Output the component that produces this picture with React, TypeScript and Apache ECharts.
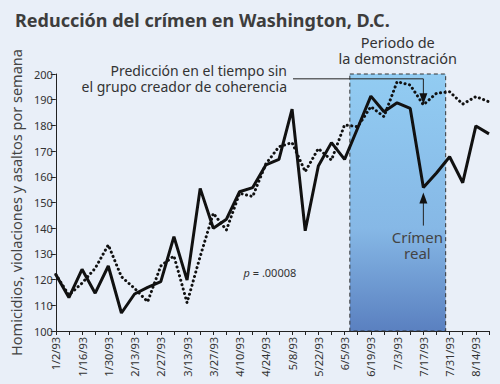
import React, { useEffect, useRef } from "react";
import * as echarts from "echarts";

const weekLabels = [
  "1/2/93", "1/9/93", "1/16/93", "1/23/93", "1/30/93", "2/6/93", "2/13/93", "2/20/93",
  "2/27/93", "3/6/93", "3/13/93", "3/20/93", "3/27/93", "4/3/93", "4/10/93", "4/17/93",
  "4/24/93", "5/1/93", "5/8/93", "5/15/93", "5/22/93", "5/29/93", "6/5/93", "6/12/93",
  "6/19/93", "6/26/93", "7/3/93", "7/10/93", "7/17/93", "7/24/93", "7/31/93", "8/7/93",
  "8/14/93", "8/21/93",
];

const actualCrime = [
  122, 113, 124, 114.7, 125.3, 107, 114.4, 117, 119.2, 136.7, 119.8, 155.5, 140, 143.5,
  154.2, 155.8, 164.6, 166.8, 186.3, 139, 164.2, 173.3, 166.8, 179, 191.4, 185.3, 188.8,
  186.6, 155.8, 161.5, 167.8, 157.7, 179.8, 176.7,
];

const predictedCrime = [
  122, 114, 118.6, 124.4, 133.5, 121.1, 116.6, 111.4, 125.3, 129.2, 111, 129, 145.8, 139.3,
  153.6, 152.3, 165, 171.7, 173.3, 162, 171, 166.5, 180.2, 179.5, 187.3, 183.4, 197, 195.7,
  188, 192.5, 193.1, 188.3, 191.2, 189.2,
];

const demoStart = 22.4;
const demoEnd = 29.7;
const demoTop = 201.5;
const yMin = 100;
const yMax = 200;
const arrowWeek = 28;

const FONT = "'Noto Sans', sans-serif";

export default function App() {
  const ref = useRef<HTMLDivElement>(null);

  useEffect(() => {
    document.body.style.margin = "0";
    const chart = echarts.init(ref.current!, null, { renderer: "svg" });
    const toPairs = (arr: number[]) => arr.map((v, i) => [i, v]);

    chart.setOption({
      animation: false,
      backgroundColor: "#e9eff8",
      title: {
        text: "Reducción del crímen en Washington, D.C.",
        left: 10,
        top: 6,
        textStyle: { fontFamily: FONT, fontSize: 18, fontWeight: "bold", color: "#3d3d3d" },
      },
      grid: { left: 54.3, right: 11, top: 74, bottom: 53, containLabel: false },
      xAxis: {
        type: "value",
        min: 0,
        max: weekLabels.length - 1,
        interval: 1,
        splitLine: { show: false },
        axisLine: { lineStyle: { color: "#222", width: 1 } },
        axisTick: { length: 4, lineStyle: { color: "#222" } },
        axisLabel: {
          rotate: 90,
          fontFamily: FONT,
          fontSize: 11,
          color: "#333",
          margin: 6,
          showMaxLabel: true,
          formatter: (v: number) => (v % 2 === 0 ? weekLabels[v] : ""),
        },
      },
      yAxis: {
        type: "value",
        min: yMin,
        max: yMax,
        interval: 10,
        name: "Homicidios, violaciones y asaltos por semana",
        nameLocation: "middle",
        nameGap: 31,
        nameTextStyle: { fontFamily: FONT, fontSize: 14.5, color: "#444" },
        splitLine: { show: false },
        axisLine: { show: true, lineStyle: { color: "#222", width: 1 } },
        axisTick: { show: true, length: 5, lineStyle: { color: "#222" } },
        axisLabel: { fontFamily: FONT, fontSize: 11, color: "#333", margin: 3 },
      },
      series: [
        {
          type: "line",
          name: "Crímen real",
          data: toPairs(actualCrime),
          showSymbol: false,
          lineStyle: { color: "#111", width: 3 },
          z: 5,
          markArea: {
            silent: true,
            itemStyle: {
              color: new echarts.graphic.LinearGradient(0, 0, 0, 1, [
                { offset: 0, color: "#92ccf2" },
                { offset: 0.6, color: "#86b8e6" },
                { offset: 1, color: "#5a80c0" },
              ]),
              borderColor: "#333",
              borderWidth: 1,
              borderType: [4, 3],
            },
            data: [[{ xAxis: demoStart, yAxis: demoTop }, { xAxis: demoEnd, yAxis: yMin }]],
          },
        },
        {
          type: "line",
          name: "Predicción",
          data: toPairs(predictedCrime),
          showSymbol: false,
          lineStyle: { color: "#111", width: 3, type: [0.1, 4.5], cap: "round" },
          z: 6,
        },
      ],
    });

    const pPred = chart.convertToPixel({ seriesIndex: 1 }, [arrowWeek, predictedCrime[arrowWeek]]) as number[];
    const pAct = chart.convertToPixel({ seriesIndex: 0 }, [arrowWeek, actualCrime[arrowWeek]]) as number[];
    const pDemo = chart.convertToPixel({ seriesIndex: 0 }, [(demoStart + demoEnd) / 2, demoTop]) as number[];
    const pP = chart.convertToPixel({ seriesIndex: 0 }, [14.3, 122.6]) as number[];

    const textStyle = { fontFamily: FONT, fontSize: 14, fill: "#333" };
    const ax = pPred[0];
    const lineY = pPred[1] - 26;
    const predTip = pPred[1] - 0.5;
    const actTip = pAct[1] + 5;

    chart.setOption({
      graphic: [
        {
          type: "text",
          x: 287,
          y: 62,
          style: {
            ...textStyle,
            text: "Predicción en el tiempo sin\nel grupo creador de coherencia",
            align: "right",
            lineHeight: 16,
          },
          z: 20,
        },
        {
          type: "polyline",
          shape: { points: [[293, lineY], [ax, lineY], [ax, predTip - 9]] },
          style: { stroke: "#222", lineWidth: 1, fill: null },
          z: 20,
        },
        {
          type: "polygon",
          shape: { points: [[ax - 4, predTip - 11], [ax + 4, predTip - 11], [ax, predTip]] },
          style: { fill: "#111" },
          z: 20,
        },
        {
          type: "polyline",
          shape: { points: [[ax, actTip + 9], [ax, actTip + 33]] },
          style: { stroke: "#222", lineWidth: 1, fill: null },
          z: 20,
        },
        {
          type: "polygon",
          shape: { points: [[ax - 4, actTip + 11], [ax + 4, actTip + 11], [ax, actTip]] },
          style: { fill: "#111" },
          z: 20,
        },
        {
          type: "text",
          x: ax - 6,
          y: actTip + 36,
          style: { ...textStyle, fontSize: 15, fill: "#444", text: "Crímen\nreal", align: "center", lineHeight: 16 },
          z: 20,
        },
        {
          type: "text",
          x: pDemo[0],
          y: 34,
          style: { ...textStyle, fontSize: 14.5, text: "Periodo de\nla demonstración", align: "center", lineHeight: 16 },
          z: 20,
        },
        {
          type: "text",
          x: pP[0],
          y: pP[1],
          style: {
            fontFamily: FONT,
            fontSize: 11,
            fill: "#333",
            text: "{i|p} = .00008",
            align: "left",
            verticalAlign: "middle",
            rich: { i: { fontStyle: "italic", fontFamily: FONT, fontSize: 11, fill: "#333" } },
          },
          z: 20,
        },
      ],
    });

    return () => chart.dispose();
  }, []);

  return <div ref={ref} style={{ width: 500, height: 384 }} />;
}
